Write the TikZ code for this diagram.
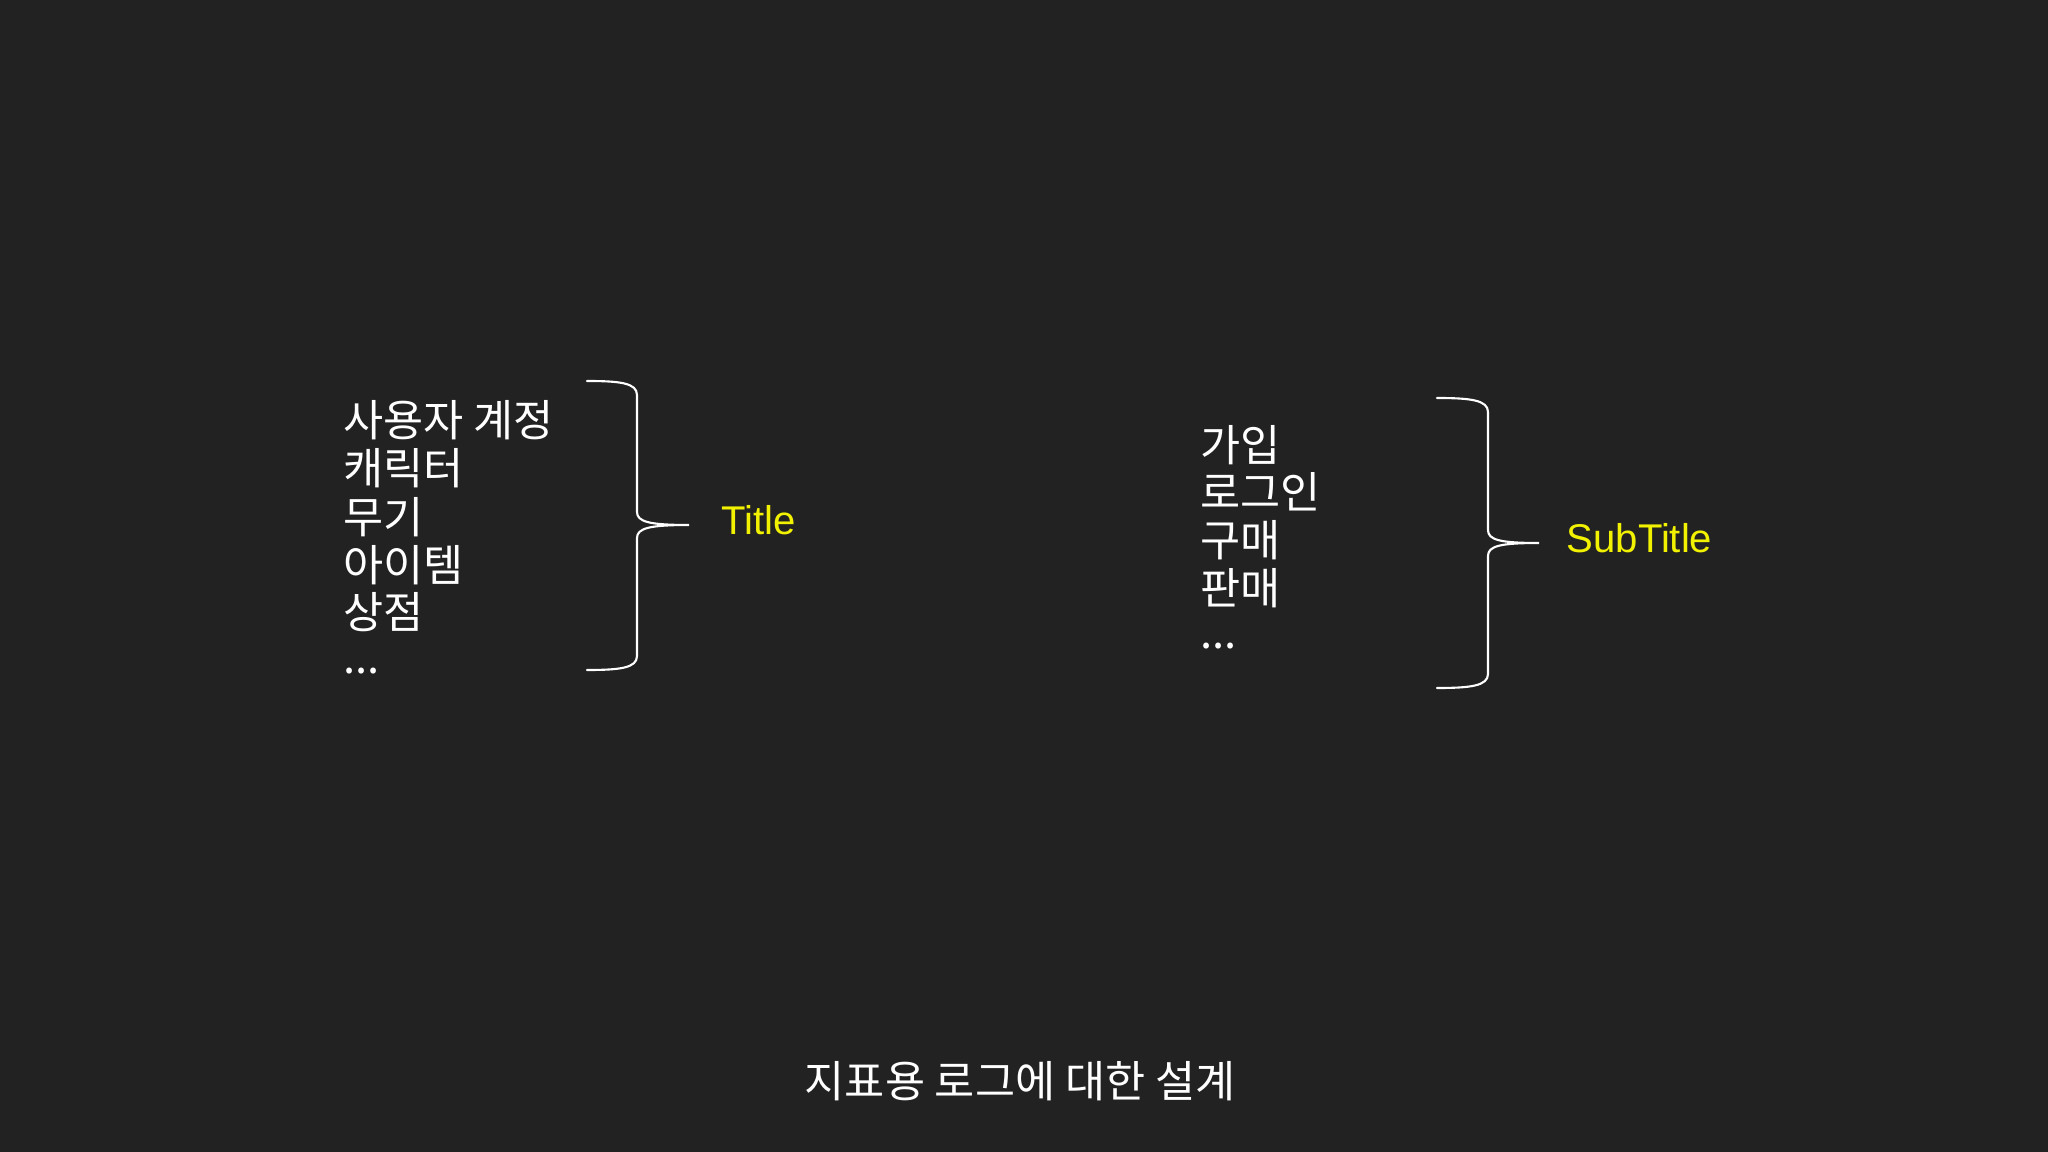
\documentclass[tikz,border=0pt]{standalone}
\usepackage{fontspec}
\setmainfont{Liberation Sans}
\newfontfamily\krfont{Noto Sans CJK KR}
\usepackage{tikz}
\definecolor{bgdark}{HTML}{222223}
\definecolor{labelyellow}{HTML}{F2F200}
\tikzset{
  item/.style={anchor=west, inner sep=0pt, text=white, font=\krfont\fontsize{12.4}{14}\selectfont},
  tag/.style={anchor=west, inner sep=0pt, text=labelyellow, font=\fontsize{11.4}{14}\selectfont},
  curly/.style={draw=white, line width=0.6pt, line cap=round}
}
\begin{document}
\begin{tikzpicture}[x=0.01cm, y=-0.01cm]
        \fill[bgdark] (0,0) rectangle (2048,1152);
        \useasboundingbox (0,0) rectangle (2048,1152);

        % left list
        \node[item] (account) at (343,420) {사용자 계정};
        \node[item] (character) at (343,468) {캐릭터};
        \node[item] (weapon) at (343,517) {무기};
        \node[item] (itemline) at (343,565) {아이템};
        \node[item] (shop) at (343,612) {상점};
        \node[item] (moreL) at (343,671) {...};

        \coordinate (LT) at (587,381);
        \coordinate (LB) at (587,670);
        \coordinate (Ltip) at (689,525);
        \draw[curly] (LT) .. controls (620,381) and (637,383) .. (637,395)
            -- (637,512) .. controls (637,522) and (650,525) .. (Ltip)
            .. controls (650,525) and (637,528) .. (637,538)
            -- (637,656) .. controls (637,668) and (620,670) .. (LB);
        \node[tag] (title) at (721,520) {Title};

        % right list
        \node[item] (join) at (1200,445) {가입};
        \node[item] (login) at (1200,492) {로그인};
        \node[item] (buy) at (1200,540) {구매};
        \node[item] (sell) at (1200,588) {판매};
        \node[item] (moreR) at (1200,646) {...};

        \coordinate (RT) at (1437,398);
        \coordinate (RB) at (1437,688);
        \coordinate (Rtip) at (1539,543);
        \draw[curly] (RT) .. controls (1470,398) and (1488,400) .. (1488,412)
            -- (1488,530) .. controls (1488,540) and (1500,543) .. (Rtip)
            .. controls (1500,543) and (1488,546) .. (1488,556)
            -- (1488,674) .. controls (1488,686) and (1470,688) .. (RB);
        \node[tag] (subtitle) at (1566,538) {SubTitle};

        % caption
        \node[item, anchor=center] (caption) at (1020,1081) {지표용 로그에 대한 설계};
\end{tikzpicture}
\end{document}
